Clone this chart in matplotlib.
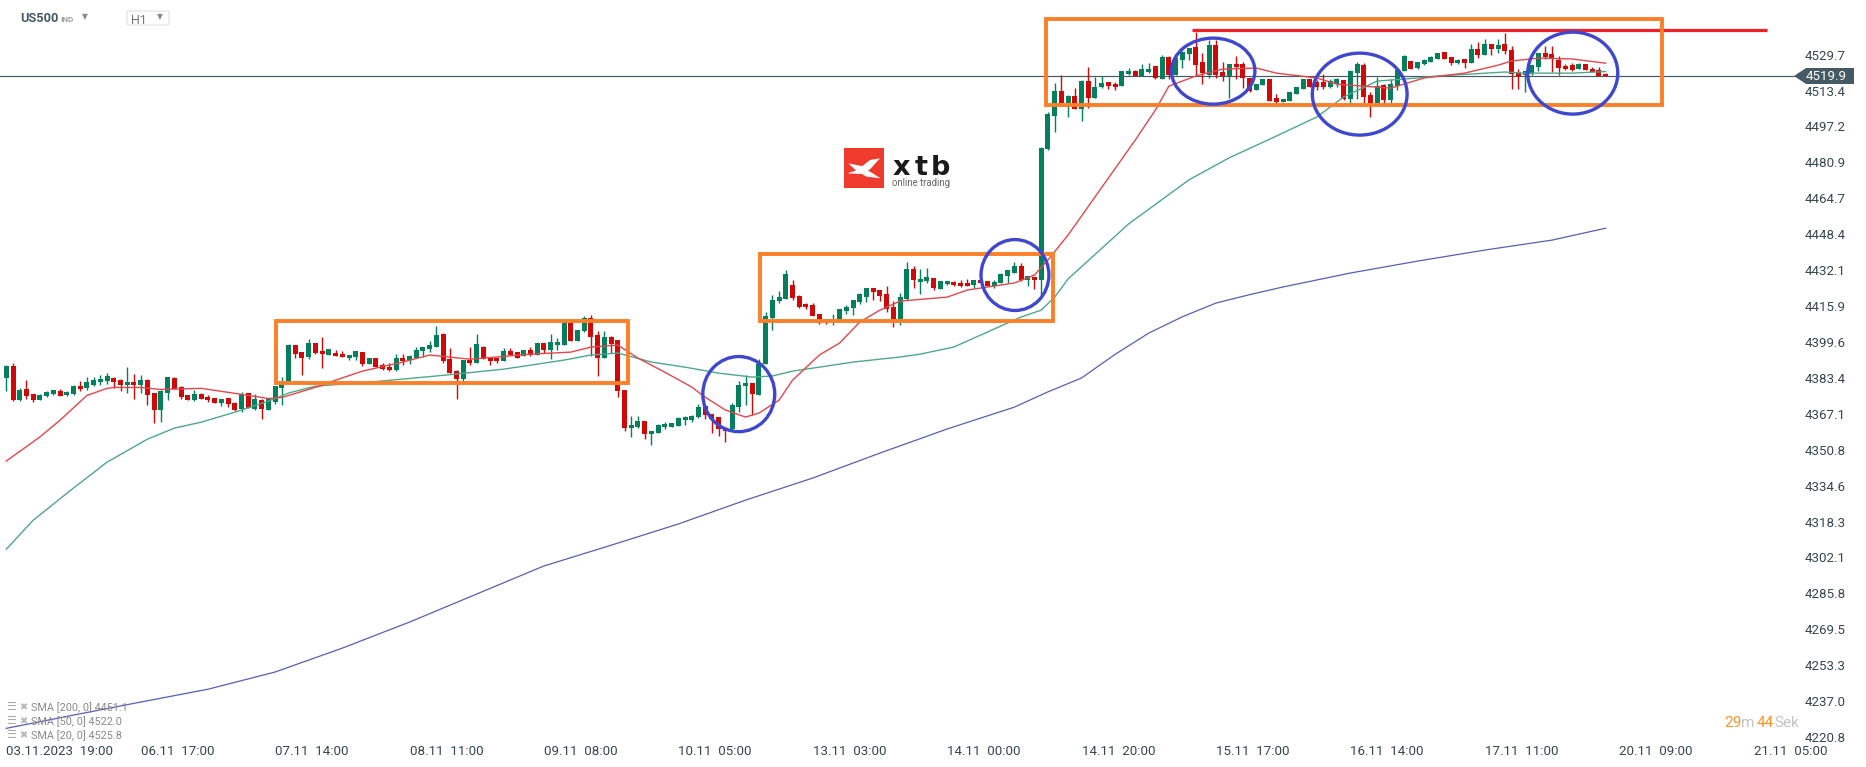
import numpy as np
from matplotlib import pyplot as plt
from matplotlib.patches import Rectangle, Ellipse, Polygon, FancyBboxPatch

plt.rcParams['font.family'] = ['Roboto', 'DejaVu Sans']

W = 1866
H = 767

opens = [4383.4,4388.7,4373.3,4378.3,4376.0,4373.3,4375.1,4376.0,4377.4,4375.6,
4376.0,4379.7,4378.8,4380.1,4381.5,4381.9,4383.3,4382.4,4380.1,4381.5,
4380.1,4382.4,4376.5,4368.8,4376.5,4383.3,4379.2,4375.6,4373.3,4376.0,
4374.7,4374.2,4372.0,4374.2,4372.0,4369.2,4376.5,4369.2,4373.3,4368.8,
4372.4,4378.8,4381.5,4398.2,4395.0,4392.7,4399.1,4395.4,4393.6,4394.5,
4394.1,4392.3,4392.7,4395.0,4389.5,4392.3,4389.1,4388.2,4386.8,4392.3,
4391.4,4392.3,4395.4,4396.3,4397.2,4403.1,4391.8,4386.4,4382.7,4391.4,
4390.0,4397.2,4392.7,4392.3,4390.9,4395.4,4395.0,4393.2,4395.9,4393.6,
4399.1,4395.9,4398.1,4398.1,4408.1,4400.0,4404.5,4410.4,4402.7,4392.3,
4401.8,4400.4,4377.8,4360.6,4361.0,4363.7,4357.8,4358.3,4361.0,4361.0,
4361.5,4364.2,4364.2,4365.5,4370.5,4366.9,4365.5,4360.1,4360.1,4370.1,
4379.6,4380.9,4375.5,4389.5,4410.4,4418.1,4419.0,4425.3,4420.3,4416.7,
4416.3,4412.2,4409.9,4409.3,4409.5,4413.6,4414.9,4417.6,4419.9,4424.0,
4423.1,4421.3,4415.4,4409.9,4419.0,4432.6,4426.7,4427.2,4428.5,4423.5,
4425.8,4426.7,4426.2,4426.2,4425.3,4427.6,4427.1,4424.9,4426.2,4429.4,
4430.8,4434.0,4427.6,4429.0,4427.6,4486.9,4501.8,4513.1,4507.7,4510.9,
4505.0,4517.7,4510.0,4514.9,4517.2,4516.3,4515.4,4520.8,4522.2,4519.9,
4521.7,4524.5,4518.6,4528.5,4520.4,4527.2,4529.9,4533.1,4526.3,4520.4,
4534.0,4521.7,4519.9,4525.4,4525.4,4519.0,4513.6,4515.9,4518.6,4510.0,
4508.2,4508.6,4511.8,4514.0,4518.6,4517.2,4517.2,4514.9,4516.3,4518.1,
4509.5,4521.3,4524.9,4511.3,4507.7,4515.9,4509.1,4515.4,4522.2,4526.7,
4523.6,4525.4,4526.3,4527.6,4530.8,4528.5,4525.8,4527.6,4525.8,4532.2,
4529.4,4534.4,4532.2,4534.4,4531.7,4521.3,4520.4,4520.8,4524.0,4530.4,
4529.9,4527.2,4524.5,4524.9,4523.1,4525.4,4523.1,4522.7,4520.8]

highs = [4389.2,4389.9,4378.6,4382.4,4376.0,4376.0,4377.4,4377.9,4378.3,4377.4,
4380.1,4381.9,4383.7,4383.7,4384.6,4385.5,4383.7,4382.8,4388.3,4385.1,
4384.6,4382.8,4376.5,4377.9,4383.7,4383.7,4379.7,4375.6,4377.9,4376.5,
4375.6,4374.2,4373.8,4374.2,4372.4,4377.0,4376.5,4376.0,4373.8,4373.8,
4379.7,4383.7,4398.7,4398.2,4395.0,4400.9,4399.1,4401.8,4396.3,4395.9,
4395.4,4393.6,4395.4,4395.0,4392.3,4392.3,4390.0,4390.0,4394.1,4394.1,
4393.6,4397.2,4397.2,4400.0,4406.8,4403.6,4396.8,4386.8,4391.4,4397.2,
4403.1,4397.7,4392.7,4392.7,4396.8,4396.8,4395.0,4395.9,4397.2,4399.1,
4399.1,4403.1,4401.3,4409.0,4409.0,4404.9,4411.3,4411.7,4404.5,4404.5,
4402.2,4400.4,4377.8,4366.0,4366.0,4363.7,4359.2,4362.4,4363.3,4362.8,
4365.5,4366.0,4366.4,4371.4,4371.0,4366.9,4365.5,4360.1,4371.9,4381.8,
4384.6,4380.9,4391.8,4413.1,4420.8,4422.6,4432.1,4427.6,4420.8,4417.2,
4417.2,4412.2,4409.9,4412.2,4414.5,4416.3,4418.5,4421.7,4424.0,4424.0,
4423.1,4424.9,4418.1,4421.7,4435.8,4434.0,4432.6,4433.0,4428.5,4427.1,
4427.1,4427.1,4427.6,4428.1,4427.6,4428.1,4427.1,4427.6,4430.8,4432.1,
4435.8,4435.3,4429.4,4429.0,4488.0,4503.8,4516.8,4520.4,4511.3,4514.5,
4518.1,4524.0,4519.5,4519.9,4517.2,4517.2,4522.2,4523.6,4522.6,4525.4,
4525.8,4524.5,4529.4,4529.0,4529.0,4531.3,4532.6,4539.9,4530.4,4536.2,
4536.2,4526.3,4525.4,4529.0,4526.3,4519.0,4516.3,4518.6,4518.6,4511.8,
4509.5,4512.7,4514.9,4518.6,4518.6,4518.1,4520.8,4518.6,4519.0,4518.1,
4522.6,4526.3,4525.8,4512.7,4519.5,4516.3,4518.6,4523.1,4529.4,4526.7,
4526.3,4527.6,4529.0,4530.4,4530.8,4528.5,4527.6,4527.6,4534.4,4535.3,
4536.7,4534.4,4536.7,4539.4,4533.5,4523.1,4522.2,4524.9,4530.4,4533.5,
4533.5,4529.0,4525.4,4525.8,4525.8,4525.4,4524.0,4524.0,4521.3]

lows = [4377.4,4372.9,4372.9,4373.8,4372.4,4373.3,4374.8,4375.6,4375.1,4375.1,
4375.6,4377.4,4377.9,4379.7,4380.1,4380.6,4378.8,4377.4,4376.5,4373.8,
4376.5,4371.1,4362.9,4363.4,4373.3,4378.3,4373.8,4373.3,4372.9,4373.8,
4372.4,4372.0,4370.6,4370.2,4368.3,4367.9,4369.7,4368.8,4364.7,4368.8,
4371.5,4371.1,4381.0,4392.3,4384.6,4391.8,4394.1,4387.7,4393.6,4393.2,
4392.7,4391.4,4391.4,4388.6,4389.5,4388.2,4386.8,4386.4,4386.4,4389.1,
4389.5,4392.3,4392.7,4395.0,4397.2,4390.0,4385.5,4373.7,4381.4,4389.1,
4390.0,4391.8,4389.1,4390.0,4390.9,4393.6,4392.3,4393.2,4393.2,4393.6,
4394.5,4391.8,4395.9,4398.1,4400.0,4400.0,4404.0,4393.2,4384.1,4392.3,
4394.5,4374.6,4359.2,4356.5,4360.6,4355.6,4352.9,4358.3,4360.1,4361.0,
4361.5,4361.9,4363.3,4365.1,4364.6,4358.3,4356.9,4354.2,4359.2,4367.8,
4371.0,4366.4,4375.5,4389.5,4405.0,4417.2,4419.0,4418.5,4414.9,4414.5,
4411.3,4407.7,4407.7,4407.2,4409.5,4412.2,4411.8,4416.7,4417.6,4418.5,
4418.1,4413.1,4406.3,4407.2,4418.5,4424.0,4421.3,4426.2,4423.1,4423.5,
4425.3,4424.9,4424.4,4424.9,4424.0,4426.2,4424.9,4424.0,4426.2,4426.2,
4430.8,4427.1,4424.9,4423.5,4420.3,4486.4,4494.6,4507.7,4501.4,4505.0,
4499.5,4505.4,4510.0,4514.5,4514.0,4513.6,4515.4,4520.4,4519.9,4519.9,
4521.3,4518.6,4518.6,4518.6,4520.4,4523.6,4527.2,4520.4,4516.3,4519.0,
4519.0,4517.7,4510.0,4518.6,4514.5,4512.7,4513.6,4515.9,4508.6,4507.7,
4508.2,4508.6,4511.8,4514.0,4514.9,4513.6,4514.0,4514.5,4514.9,4509.1,
4507.7,4509.5,4507.7,4501.4,4507.7,4506.9,4507.7,4513.6,4522.2,4523.1,
4523.1,4524.9,4526.3,4527.6,4527.6,4524.9,4525.4,4523.6,4525.8,4528.1,
4529.4,4529.4,4530.4,4529.9,4514.0,4514.0,4512.7,4520.4,4522.2,4527.6,
4521.7,4520.4,4522.6,4522.2,4523.1,4522.6,4521.7,4519.9,4519.9]

closes = [4388.7,4373.3,4377.9,4375.3,4373.3,4375.6,4377.0,4377.9,4375.1,4377.0,
4379.7,4378.3,4381.5,4382.4,4382.8,4384.2,4381.5,4380.1,4381.5,4380.1,
4382.4,4375.6,4368.8,4377.4,4383.7,4378.3,4374.7,4373.3,4376.0,4373.8,
4373.3,4372.0,4373.8,4371.5,4368.8,4376.0,4369.7,4373.8,4369.2,4373.8,
4379.7,4380.6,4398.2,4394.2,4392.3,4399.1,4394.5,4394.1,4396.3,4393.2,
4392.7,4393.6,4395.4,4389.5,4392.3,4388.2,4387.3,4386.8,4392.3,4390.9,
4393.2,4395.9,4397.2,4398.1,4402.7,4390.9,4385.5,4382.7,4391.4,4390.0,
4398.6,4391.8,4390.9,4390.9,4395.4,4393.6,4392.3,4395.9,4393.6,4399.1,
4395.9,4399.5,4399.5,4408.1,4400.0,4404.9,4410.4,4401.8,4392.3,4401.8,
4398.6,4377.3,4360.6,4361.9,4363.7,4357.8,4359.2,4361.9,4362.4,4362.8,
4365.1,4365.5,4366.0,4370.1,4366.4,4364.6,4360.1,4359.2,4371.0,4380.0,
4380.9,4376.0,4389.5,4411.3,4418.5,4419.9,4430.3,4419.4,4415.4,4415.4,
4411.3,4409.5,4409.3,4409.9,4414.5,4415.4,4418.5,4421.3,4424.0,4422.2,
4420.3,4414.5,4409.9,4419.9,4432.6,4427.6,4428.1,4429.0,4424.0,4427.1,
4427.1,4425.3,4424.9,4424.9,4427.6,4426.2,4424.9,4426.7,4430.3,4432.1,
4434.0,4427.6,4429.4,4427.6,4487.4,4502.7,4513.1,4507.7,4510.9,4505.0,
4517.7,4510.0,4514.9,4516.8,4515.4,4514.9,4522.2,4522.2,4519.9,4523.1,
4523.1,4519.0,4528.5,4520.4,4528.1,4530.8,4532.6,4524.9,4521.3,4534.0,
4520.4,4519.9,4525.4,4524.0,4519.0,4513.1,4516.3,4518.6,4508.6,4508.2,
4509.5,4512.7,4514.9,4518.6,4514.9,4514.9,4514.9,4517.7,4518.6,4509.5,
4522.2,4525.4,4510.4,4507.7,4515.4,4509.1,4516.3,4522.6,4529.0,4523.1,
4526.3,4527.2,4528.5,4530.4,4527.6,4525.8,4527.2,4525.8,4532.2,4529.4,
4534.4,4532.2,4534.0,4531.3,4520.8,4519.9,4522.2,4524.9,4530.4,4528.5,
4527.6,4523.6,4523.1,4522.6,4525.4,4522.6,4521.7,4519.9,4519.9]

sma20_i = [0,5,8,12,15,16,20,23,29,33,39,41,44,47,49,53,59,63,69,73,78,84,87,91,94,98,102,104,107,110,
           112,115,117,121,124,127,130,133,140,143,150,153,155,158,168,171,173,177,181,186,189,195,198,
           206,211,217,222,224,228,233,238]
sma20_v = [4345.7,4356.6,4364.2,4375.4,4378.6,4379.0,4379.0,4378.1,4378.6,4376.8,4374.0,4374.5,4377.2,
           4380.0,4382.3,4386.4,4390.5,4393.7,4391.8,4392.8,4394.1,4395.0,4397.3,4398.2,4392.3,4385.9,
           4379.2,4374.6,4368.8,4365.6,4367.4,4373.3,4382.3,4393.7,4399.1,4408.6,4414.0,4418.1,4419.9,
           4423.1,4426.3,4429.9,4436.7,4448.0,4491.0,4504.6,4515.4,4520.0,4523.1,4523.6,4521.3,4519.1,
           4516.3,4514.5,4519.1,4521.3,4524.9,4526.8,4528.1,4527.7,4525.8]

sma50_i = [0,4,10,15,21,25,29,34,39,42,46,54,59,64,67,74,78,83,87,91,96,101,106,111,114,117,121,126,
           133,136,141,146,151,154,156,158,167,176,182,188,195,199,204,210,213,223,226,233,238]
sma50_v = [4305.8,4318.9,4333.5,4345.2,4355.6,4360.6,4363.3,4367.8,4372.8,4376.5,4379.6,4381.4,4382.8,
           4384.2,4385.1,4387.3,4389.1,4391.4,4393.7,4394.6,4390.5,4388.2,4385.5,4383.7,4384.2,4386.4,
           4388.2,4390.5,4392.8,4394.1,4397.3,4404.1,4410.9,4414.0,4419.9,4428.1,4453.0,4473.0,4483.0,
           4491.4,4501.4,4510.5,4517.7,4519.1,4520.0,4521.8,4521.3,4521.3,4522.0]

sma200_i = [0,10,20,30,40,50,60,70,80,90,100,110,120,130,140,150,155,160,165,170,175,180,185,190,200,210,220,230,238]
sma200_v = [4224.7,4230.7,4236.6,4242.4,4250.2,4261.0,4272.8,4285.5,4298.2,4307.6,4317.2,4328.0,4338.0,
            4349.3,4360.2,4370.1,4377.0,4383.3,4394.0,4403.6,4411.0,4417.2,4421.0,4424.5,4430.8,4436.2,
            4441.2,4445.7,4451.1]

price_ticks = [4529.7,4513.4,4497.2,4480.9,4464.7,4448.4,4432.1,4415.9,4399.6,4383.4,
               4367.1,4350.8,4334.6,4318.3,4302.1,4285.8,4269.5,4253.3,4237.0,4220.8]
time_ticks = [0,20,40,60,80,100,120,140,160,180,200,220,240,260]
time_labels = ['03.11.2023  19:00','06.11  17:00','07.11  14:00','08.11  11:00','09.11  08:00',
               '10.11  05:00','13.11  03:00','14.11  00:00','14.11  20:00','15.11  17:00',
               '16.11  14:00','17.11  11:00','20.11  09:00','21.11  05:00']
last_price = 4519.9

# drawn boxes: first candle, last candle, low, high
box_i0 = [40.1,112.2,154.7]
box_i1 = [92.5,155.7,246.4]
box_lo = [4381.0,4409.0,4506.8]
box_hi = [4409.0,4439.4,4545.8]

# drawn circles: centre and size in candles / points
circle_i = [109.0,150.1,179.6,201.4,233.1]
circle_p = [4376.0,4429.9,4522.2,4511.8,4521.3]
circle_w = [10.7,10.1,12.4,14.1,13.4]
circle_h = [34.0,32.1,29.9,37.1,37.1]

res_i = [176.5,262.0]
res_p = [4540.8,4540.8]

legend_labels = ['SMA [200, 0] 4451.1','SMA [50, 0] 4522.0','SMA [20, 0] 4525.8']

fig = plt.figure(figsize=(W/100, H/100), dpi=100)
ax = fig.add_axes([0, 0, 1, 1])
ax.set_xlim(-0.9375, 276.74)
ax.set_ylim(4207.2, 4554.4)
for s in ax.spines.values():
    s.set_visible(False)

idx = np.arange(len(opens))
o = np.array(opens)
c = np.array(closes)
green = '#047f5c'
red = '#cf0808'
cols = [green if b >= a else red for a, b in zip(o, c)]

ax.axhline(last_price, xmax=1794/W, color='#455a64', lw=0.85, zorder=1)
ax.vlines(idx, lows, highs, colors=cols, lw=1.0, zorder=2)
ax.bar(idx, np.abs(c - o), bottom=np.minimum(o, c), width=0.74, color=cols, linewidth=0, zorder=3)

ax.plot(sma200_i, sma200_v, color='#5560b5', lw=0.9, zorder=4)
ax.plot(sma50_i, sma50_v, color='#4fa88b', lw=1.0, zorder=4)
ax.plot(sma20_i, sma20_v, color='#e2474c', lw=1.0, zorder=4)

ax.plot(res_i, res_p, color='#ee2028', lw=2.3, solid_capstyle='butt', zorder=5)

for a, b, lo, hi in zip(box_i0, box_i1, box_lo, box_hi):
    ax.add_patch(Rectangle((a, lo), b - a, hi - lo, fill=False, ec='#fd7f28', lw=2.8, zorder=6))
for x, y, w, h in zip(circle_i, circle_p, circle_w, circle_h):
    ax.add_patch(Ellipse((x, y), w, h, fill=False, ec='#3f47cf', lw=2.4, zorder=7))

ax.xaxis.tick_bottom()
ax.yaxis.tick_right()
ax.set_xticks(time_ticks)
ax.set_xticklabels(time_labels, ha='left')
ax.set_yticks(price_ticks)
ax.set_yticklabels(['%.1f' % p for p in price_ticks])
ax.tick_params(axis='x', length=0, pad=-16, labelsize=9.6, labelcolor='#37474f')
ax.tick_params(axis='y', length=0, pad=-43.8, labelsize=9.6, labelcolor='#37474f')


def px(x, y):
    return x / W, 1 - y / H


# price tag
tag = np.array([[1794, 76], [1806, 68], [1854, 68], [1854, 84], [1806, 84]], dtype=float)
fig.add_artist(Polygon(np.column_stack(px(tag[:, 0], tag[:, 1])), closed=True, fc='#455a64', ec='none',
                       transform=fig.transFigure, zorder=8))
fig.text(*px(1806, 77), '%.1f' % last_price, color='white', fontsize=9.6, va='center', zorder=9)

# header
fig.text(*px(20, 19), 'US500', color='#455a64', fontsize=9.2, fontweight='bold', va='center')
fig.text(*px(60, 19), 'IND', color='#9e9e9e', fontsize=5.8, fontweight='bold', va='center')
fig.text(*px(82, 17), '▼', color='#8a8a8a', fontsize=5.5, va='center', family=['DejaVu Sans'])
x0, y0 = px(127, 25)
x1, y1 = px(169, 11)
fig.add_artist(FancyBboxPatch((x0, y0), x1 - x0, y1 - y0, boxstyle='round,pad=0,rounding_size=0.001',
                              fc='white', ec='#e2e2e2', lw=0.8, transform=fig.transFigure))
fig.text(*px(131, 20), 'H1', color='#757575', fontsize=9, va='center')
fig.text(*px(157, 17), '▼', color='#8a8a8a', fontsize=5.5, va='center', family=['DejaVu Sans'])

# logo
x0, y0 = px(844, 188)
x1, y1 = px(884, 148)
fig.add_artist(Rectangle((x0, y0), x1 - x0, y1 - y0, fc='#ee3b2e', ec='none', transform=fig.transFigure))
wing1 = np.array([[180, 85], [150, 90], [112, 120], [82, 130], [120, 132], [150, 118]], dtype=float)
wing2 = np.array([[85, 100], [125, 108], [150, 125], [182, 145], [140, 140], [112, 125]], dtype=float)
for wing in [wing1, wing2]:
    fig.add_artist(Polygon(np.column_stack(px(820 + wing[:, 0] / 3, 130 + wing[:, 1] / 3)), closed=True,
                           fc='white', ec='none', transform=fig.transFigure))
for letter, x in [('x', 893), ('t', 915), ('b', 931)]:
    fig.text(*px(x, 175), letter, color='#1a1a1a', fontsize=19.5, fontweight='bold', va='baseline',
             family=['DejaVu Sans'])
fig.text(*px(892, 186), 'online trading', color='#666666', fontsize=6.9, va='baseline')

# indicator legend
for label, y in zip(legend_labels, [708, 722, 736]):
    fig.text(*px(6, y - 1), '☰', color='#aaaaaa', fontsize=8, va='center', family=['DejaVu Sans'])
    fig.text(*px(19, y - 1), '✖', color='#b5b5b5', fontsize=7, va='center', family=['DejaVu Sans'])
    fig.text(*px(31, y), label, color='#8a8a8a', fontsize=7.8, va='center')

# countdown
for text, x, col in [('29', 1724, '#ff9420'), ('m', 1741, '#c4c4c4'), ('44', 1757, '#ff9420'), ('Sek', 1774, '#c4c4c4')]:
    fig.text(*px(x, 723), text, color=col, fontsize=11, va='center')

fig.savefig('out.png', dpi=100, facecolor='white')
